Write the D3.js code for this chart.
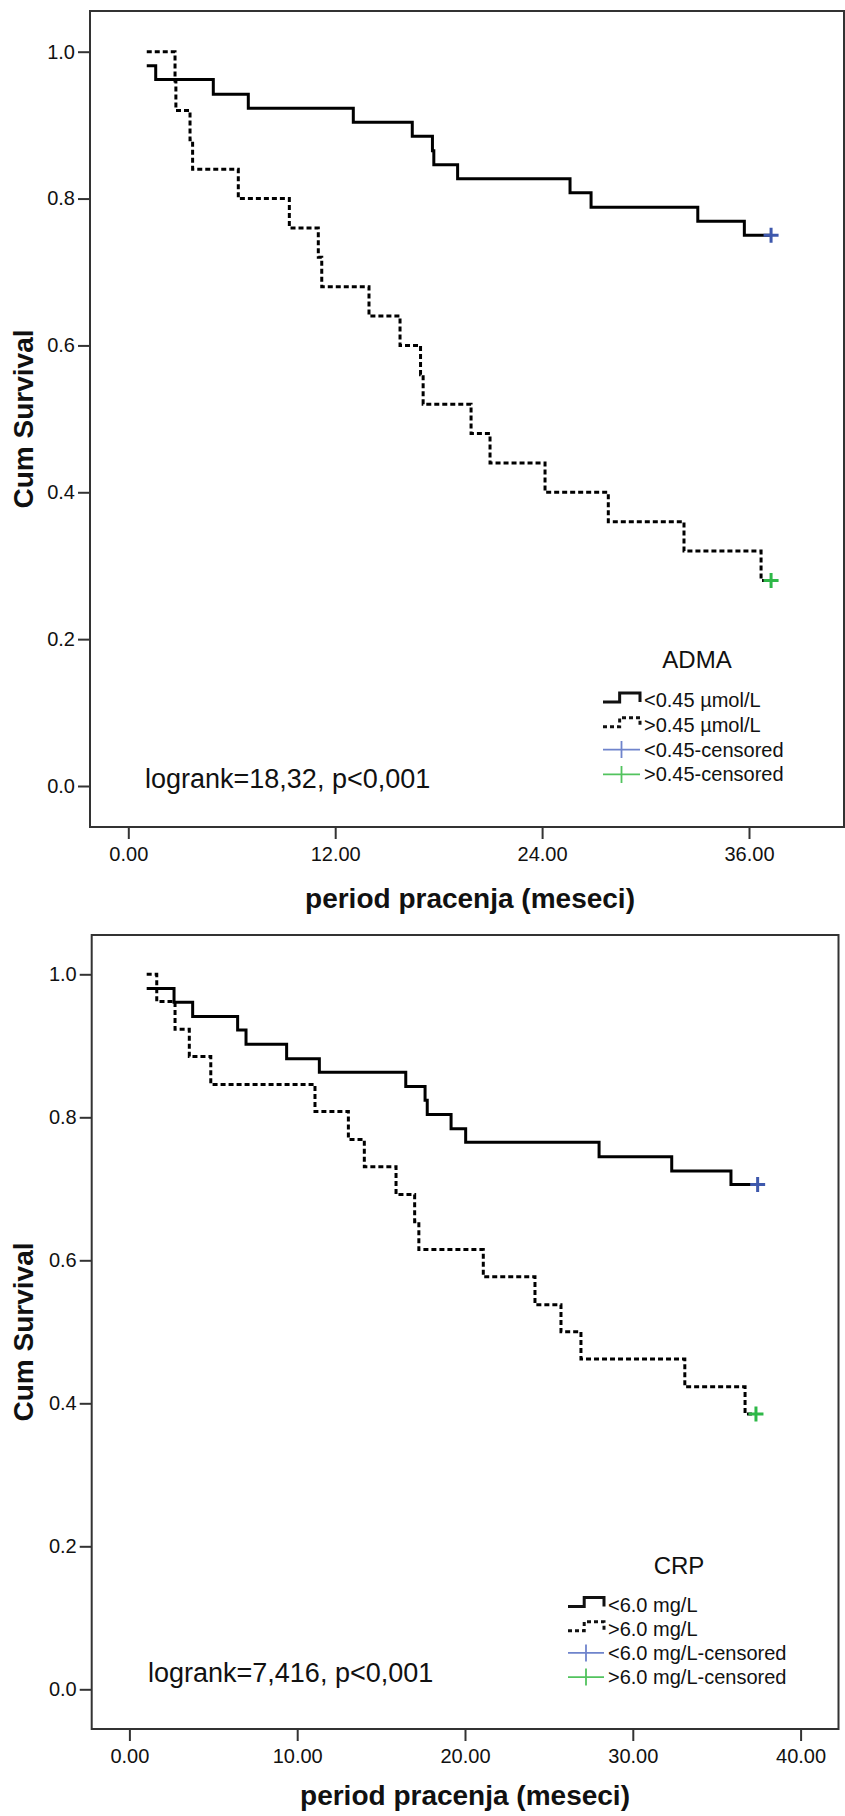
<!DOCTYPE html>
<html>
<head>
<meta charset="utf-8">
<script src="https://cdn.jsdelivr.net/npm/d3@7"></script>
<style>
  body { margin: 0; background: #fff; }
  text { font-family: "Liberation Sans", Arial, sans-serif; fill: #111; }
</style>
</head>
<body>
<script>
// ---- data: ADMA panel ----
var admaTicks = [0, 12, 24, 36];
var admaLowTime = [1.07, 1.59, 4.93, 6.96, 13.05, 16.47, 17.64, 17.72, 19.10, 25.62, 26.84, 33.03, 35.73, 37.28];
var admaLowSurv = [0.981, 0.962, 0.942, 0.923, 0.904, 0.885, 0.865, 0.846, 0.827, 0.808, 0.788, 0.769, 0.750, 0.750];
var admaHighTime = [1.07, 2.71, 2.76, 3.58, 3.73, 6.38, 9.34, 11.02, 11.22, 13.96, 15.76, 16.95, 17.10, 19.88, 20.98, 24.17, 27.84, 32.23, 36.70, 37.28];
var admaHighSurv = [1.00, 0.96, 0.92, 0.88, 0.84, 0.80, 0.76, 0.72, 0.68, 0.64, 0.60, 0.56, 0.52, 0.48, 0.44, 0.40, 0.36, 0.32, 0.28, 0.28];
var admaCensorLow = [37.28, 0.750];
var admaCensorHigh = [37.28, 0.28];
var admaLegend = ["<0.45 \u00b5mol/L", ">0.45 \u00b5mol/L", "<0.45-censored", ">0.45-censored"];

// ---- data: CRP panel ----
var crpTicks = [0, 10, 20, 30, 40];
var crpLowTime = [1.03, 2.66, 3.77, 6.45, 6.95, 9.37, 11.32, 16.47, 17.62, 17.75, 19.17, 20.04, 27.99, 32.32, 35.85, 37.44];
var crpLowSurv = [0.980, 0.961, 0.941, 0.922, 0.902, 0.882, 0.863, 0.843, 0.824, 0.804, 0.784, 0.765, 0.745, 0.725, 0.706, 0.706];
var crpHighTime = [1.03, 1.63, 2.72, 3.57, 4.85, 11.06, 13.05, 14.00, 15.89, 17.00, 17.25, 21.09, 24.17, 25.72, 26.91, 33.10, 36.69, 37.34];
var crpHighSurv = [1.000, 0.962, 0.923, 0.885, 0.846, 0.808, 0.769, 0.731, 0.692, 0.654, 0.615, 0.577, 0.538, 0.500, 0.462, 0.423, 0.385, 0.385];
var crpCensorLow = [37.44, 0.706];
var crpCensorHigh = [37.34, 0.385];
var crpLegend = ["<6.0 mg/L", ">6.0 mg/L", "<6.0 mg/L-censored", ">6.0 mg/L-censored"];

var survTicks = [0, 0.2, 0.4, 0.6, 0.8, 1.0];

var blue = "#3e58ac", green = "#2eb848";

var svg = d3.select("body").append("svg")
    .attr("width", 845)
    .attr("height", 1816);

function panel(p) {
  var g = svg.append("g");
  var x = d3.scaleLinear().domain([0, p.xRef]).range([p.x0, p.x1]);
  var y = d3.scaleLinear().domain([0, 1]).range([p.y0, p.y1]);
  var f = p.frame;

  // frame
  g.append("rect")
      .attr("x", f.l).attr("y", f.t)
      .attr("width", f.r - f.l).attr("height", f.b - f.t)
      .attr("fill", "none").attr("stroke", "#333").attr("stroke-width", 2);

  // axes
  var xa = g.append("g")
      .attr("transform", "translate(0," + f.b + ")")
      .call(d3.axisBottom(x).tickValues(p.ticks).tickFormat(d3.format(".2f")).tickSize(12).tickPadding(8));
  var ya = g.append("g")
      .attr("transform", "translate(" + f.l + ",0)")
      .call(d3.axisLeft(y).tickValues(survTicks).tickFormat(d3.format(".1f")).tickSize(12).tickPadding(3));
  [xa, ya].forEach(function (a) {
    a.select(".domain").remove();
    a.selectAll("line").attr("stroke", "#333").attr("stroke-width", 2);
    a.selectAll("text")
        .style("font-family", "'Liberation Sans', Arial, sans-serif")
        .style("font-size", "20px").attr("fill", "#222");
  });

  // axis titles
  g.append("text")
      .attr("x", p.xTitleX).attr("y", p.xTitleY)
      .attr("text-anchor", "middle")
      .style("font-size", "28px").style("font-weight", "bold")
      .text("period pracenja (meseci)");
  g.append("text")
      .attr("transform", "translate(33," + ((f.t + f.b) / 2) + ") rotate(-90)")
      .attr("text-anchor", "middle")
      .style("font-size", "28px").style("font-weight", "bold")
      .text("Cum Survival");

  // KM curves
  var line = d3.line()
      .x(function (d) { return x(d[0]); })
      .y(function (d) { return y(d[1]); })
      .curve(d3.curveStepAfter);
  g.append("path")
      .datum(d3.zip(p.lowTime, p.lowSurv))
      .attr("d", line)
      .attr("fill", "none").attr("stroke", "#000").attr("stroke-width", 3);
  g.append("path")
      .datum(d3.zip(p.highTime, p.highSurv))
      .attr("d", line)
      .attr("fill", "none").attr("stroke", "#000").attr("stroke-width", 3)
      .attr("stroke-dasharray", "5,3");

  // censor marks
  [[p.censorLow, blue], [p.censorHigh, green]].forEach(function (c) {
    var cx = x(c[0][0]), cy = y(c[0][1]);
    g.append("path")
        .attr("d", "M" + (cx - 7.5) + "," + cy + "H" + (cx + 7.5) + "M" + cx + "," + (cy - 7.5) + "V" + (cy + 7.5))
        .attr("stroke", c[1]).attr("stroke-width", 3);
  });

  // logrank note
  g.append("text")
      .attr("x", p.noteX).attr("y", p.noteY)
      .style("font-size", "27px").attr("fill", "#222")
      .text(p.note);

  // legend
  var L = p.legend;
  g.append("text")
      .attr("x", L.titleX).attr("y", L.titleY)
      .attr("text-anchor", "middle")
      .style("font-size", "24px").attr("fill", "#222")
      .text(L.title);
  p.legendLabels.forEach(function (lab, i) {
    var by = L.y + i * L.dy;
    var cy = by - 7;
    var sx = L.symX, sw = L.symW;
    if (i < 2) {
      g.append("path")
          .attr("d", "M" + sx + "," + (cy + 2) + "H" + (sx + sw * 0.45) + "V" + (cy - 7) + "H" + (sx + sw) + "V" + (cy + 2))
          .attr("fill", "none").attr("stroke", "#111").attr("stroke-width", 3)
          .attr("stroke-dasharray", i === 1 ? "4,3" : null);
    } else {
      var col = i === 2 ? "#6f84cc" : "#52c35e";
      g.append("path")
          .attr("d", "M" + sx + "," + cy + "H" + (sx + sw) + "M" + (sx + sw / 2) + "," + (cy - 8.5) + "V" + (cy + 8.5))
          .attr("fill", "none").attr("stroke", col).attr("stroke-width", 1.8);
    }
    g.append("text")
        .attr("x", L.textX).attr("y", by)
        .style("font-size", "20px").attr("fill", "#111")
        .text(lab);
  });
}

panel({
  frame: {l: 90, t: 11, r: 844, b: 827},
  xRef: 36, x0: 128.3, x1: 749,
  y0: 786, y1: 51.7,
  ticks: admaTicks,
  xTitleX: 470, xTitleY: 908,
  lowTime: admaLowTime, lowSurv: admaLowSurv,
  highTime: admaHighTime, highSurv: admaHighSurv,
  censorLow: admaCensorLow, censorHigh: admaCensorHigh,
  note: "logrank=18,32, p<0,001", noteX: 145, noteY: 788,
  legend: {title: "ADMA", titleX: 697, titleY: 668, y: 707, dy: 24.8, symX: 603, symW: 37, textX: 644},
  legendLabels: admaLegend
});

panel({
  frame: {l: 91.7, t: 935, r: 838.5, b: 1729},
  xRef: 40, x0: 129.4, x1: 800.6,
  y0: 1689.3, y1: 974.3,
  ticks: crpTicks,
  xTitleX: 465, xTitleY: 1805,
  lowTime: crpLowTime, lowSurv: crpLowSurv,
  highTime: crpHighTime, highSurv: crpHighSurv,
  censorLow: crpCensorLow, censorHigh: crpCensorHigh,
  note: "logrank=7,416, p<0,001", noteX: 148, noteY: 1682,
  legend: {title: "CRP", titleX: 679, titleY: 1574, y: 1611.5, dy: 24.2, symX: 568, symW: 36, textX: 608},
  legendLabels: crpLegend
});
</script>
</body>
</html>
